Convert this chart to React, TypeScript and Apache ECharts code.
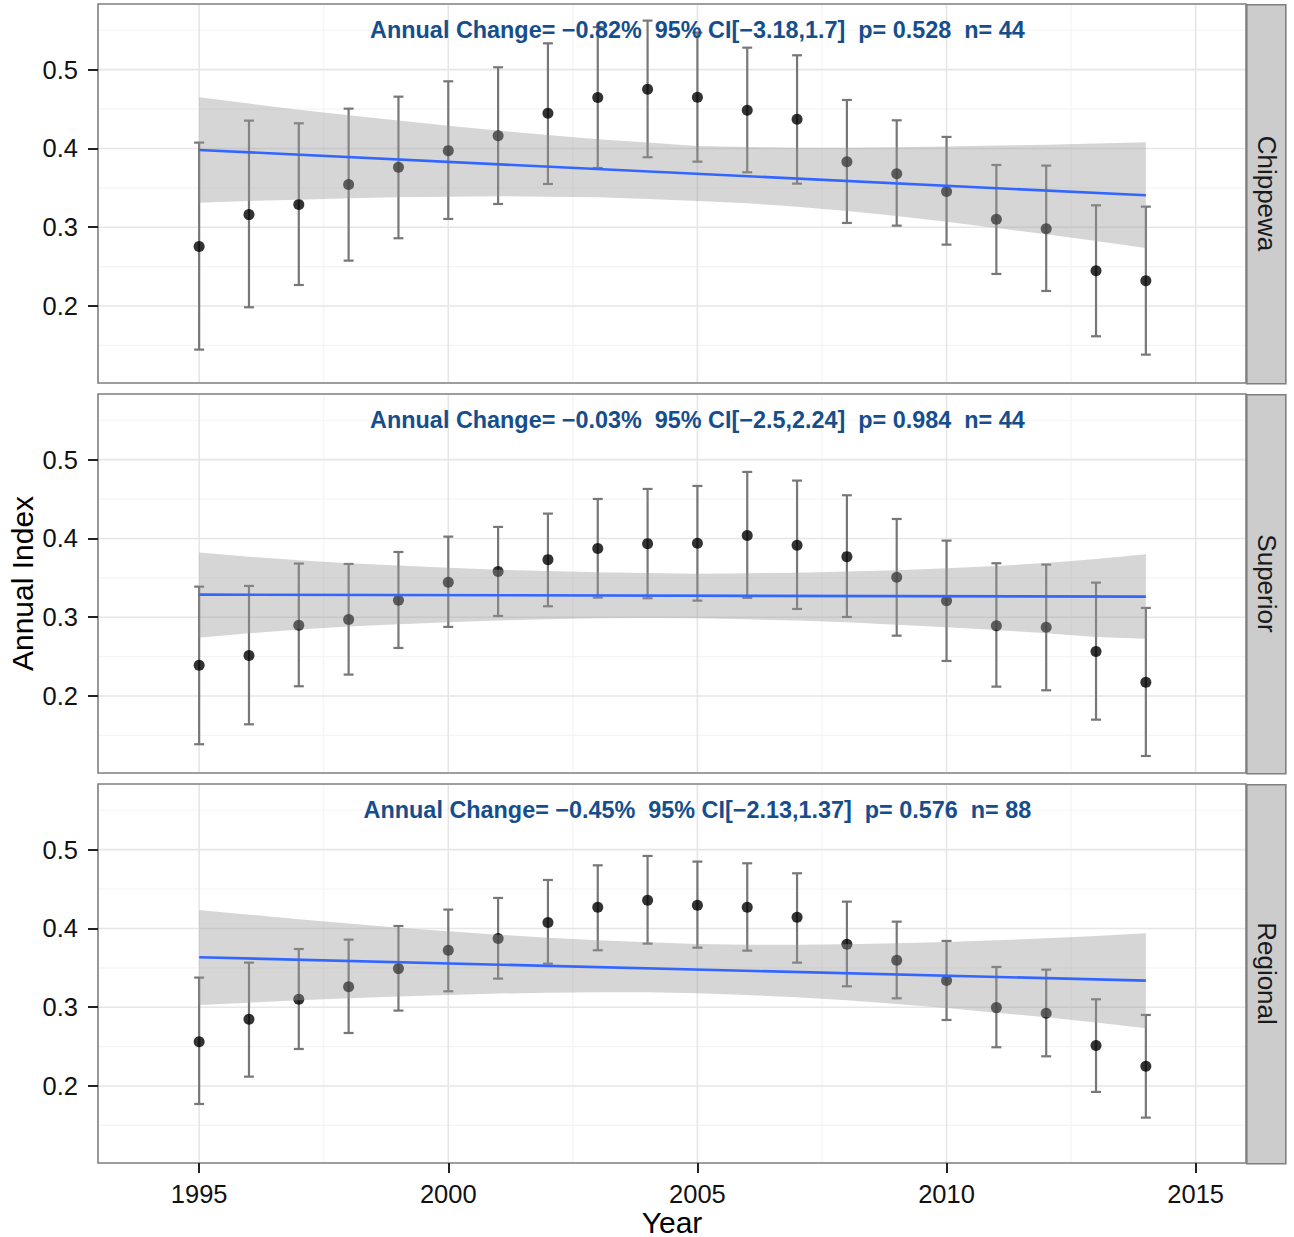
import React, { useEffect, useRef } from "react";
import * as echarts from "echarts";

// ---------- data ----------
const years = [1995, 1996, 1997, 1998, 1999, 2000, 2001, 2002, 2003, 2004, 2005, 2006, 2007, 2008, 2009, 2010, 2011, 2012, 2013, 2014];
const facets = ["Chippewa", "Superior", "Regional"];

const chippewaMean = [0.2754, 0.3160, 0.3287, 0.3541, 0.3761, 0.3972, 0.4162, 0.4446, 0.4645, 0.4750, 0.4649, 0.4484, 0.4370, 0.3832, 0.3680, 0.3452, 0.3101, 0.2982, 0.2449, 0.2322];
const chippewaLow = [0.1447, 0.1984, 0.2267, 0.2576, 0.2860, 0.3105, 0.3295, 0.3549, 0.3752, 0.3888, 0.3832, 0.3697, 0.3553, 0.3054, 0.3020, 0.2779, 0.2407, 0.2191, 0.1616, 0.1383];
const chippewaHigh = [0.4074, 0.4353, 0.4319, 0.4505, 0.4657, 0.4852, 0.5030, 0.5334, 0.5540, 0.5622, 0.5470, 0.5279, 0.5182, 0.4615, 0.4357, 0.4146, 0.3790, 0.3782, 0.3278, 0.3261];
const chippewaFit = [0.3981, 0.3405];
const chippewaBandUpper = [0.4649, 0.4569, 0.4492, 0.4420, 0.4353, 0.4289, 0.4226, 0.4171, 0.4116, 0.4074, 0.4031, 0.4019, 0.4010, 0.4010, 0.4014, 0.4023, 0.4036, 0.4048, 0.4061, 0.4078];
const chippewaBandLower = [0.3312, 0.3333, 0.3350, 0.3367, 0.3380, 0.3388, 0.3393, 0.3388, 0.3380, 0.3358, 0.3333, 0.3304, 0.3261, 0.3206, 0.3143, 0.3071, 0.2991, 0.2910, 0.2826, 0.2737];

const superiorMean = [0.2390, 0.2513, 0.2898, 0.2970, 0.3215, 0.3443, 0.3579, 0.3731, 0.3871, 0.3934, 0.3938, 0.4036, 0.3913, 0.3769, 0.3507, 0.3210, 0.2893, 0.2872, 0.2564, 0.2175];
const superiorLow = [0.1388, 0.1641, 0.2124, 0.2272, 0.2610, 0.2877, 0.3016, 0.3139, 0.3249, 0.3241, 0.3211, 0.3245, 0.3105, 0.3003, 0.2766, 0.2445, 0.2119, 0.2073, 0.1700, 0.1239];
const superiorHigh = [0.3388, 0.3397, 0.3681, 0.3676, 0.3828, 0.4023, 0.4146, 0.4315, 0.4501, 0.4628, 0.4666, 0.4844, 0.4734, 0.4548, 0.4247, 0.3972, 0.3685, 0.3668, 0.3439, 0.3118];
const superiorFit = [0.3287, 0.3261];
const superiorBandUpper = [0.3820, 0.3769, 0.3723, 0.3685, 0.3655, 0.3629, 0.3604, 0.3587, 0.3570, 0.3562, 0.3553, 0.3558, 0.3566, 0.3579, 0.3596, 0.3621, 0.3651, 0.3689, 0.3740, 0.3799];
const superiorBandLower = [0.2741, 0.2796, 0.2843, 0.2881, 0.2910, 0.2936, 0.2957, 0.2974, 0.2987, 0.2991, 0.2987, 0.2974, 0.2957, 0.2936, 0.2906, 0.2872, 0.2838, 0.2796, 0.2750, 0.2728];

const regionalMean = [0.2563, 0.2847, 0.3101, 0.3261, 0.3490, 0.3723, 0.3871, 0.4074, 0.4268, 0.4357, 0.4294, 0.4268, 0.4141, 0.3799, 0.3596, 0.3338, 0.2995, 0.2923, 0.2513, 0.2250];
const regionalLow = [0.1772, 0.2119, 0.2470, 0.2673, 0.2957, 0.3202, 0.3363, 0.3553, 0.3723, 0.3807, 0.3756, 0.3718, 0.3566, 0.3266, 0.3113, 0.2838, 0.2492, 0.2377, 0.1925, 0.1599];
const regionalHigh = [0.3376, 0.3566, 0.3739, 0.3858, 0.4031, 0.4239, 0.4387, 0.4615, 0.4801, 0.4920, 0.4848, 0.4827, 0.4700, 0.4340, 0.4086, 0.3841, 0.3511, 0.3477, 0.3101, 0.2902];
const regionalFit = [0.3634, 0.3338];
const regionalBandUpper = [0.4234, 0.4175, 0.4116, 0.4061, 0.4010, 0.3964, 0.3921, 0.3883, 0.3849, 0.3824, 0.3803, 0.3794, 0.3794, 0.3799, 0.3811, 0.3828, 0.3849, 0.3875, 0.3904, 0.3938];
const regionalBandLower = [0.3029, 0.3058, 0.3088, 0.3113, 0.3135, 0.3156, 0.3173, 0.3185, 0.3190, 0.3190, 0.3177, 0.3156, 0.3126, 0.3088, 0.3042, 0.2991, 0.2931, 0.2872, 0.2805, 0.2733];

const annotations = [
  "Annual Change= \u22120.82%  95% CI[\u22123.18,1.7]  p= 0.528  n= 44",
  "Annual Change= \u22120.03%  95% CI[\u22122.5,2.24]  p= 0.984  n= 44",
  "Annual Change= \u22120.45%  95% CI[\u22122.13,1.37]  p= 0.576  n= 88",
];
const fitYears = [1995, 2014];
const annotationAt = [2005, 0.55];

const xTicks = [1995, 2000, 2005, 2010, 2015];
const xMinor = [1997.5, 2002.5, 2007.5, 2012.5];
const yTicks = [0.2, 0.3, 0.4, 0.5];
const yMinor = [0.15, 0.25, 0.35, 0.45, 0.55];

// ---------- layout ----------
const W = 1294;
const H = 1237;
const GRID_LEFT = 98;
const GRID_W = 1148;
const PANEL_TOPS = [4, 394, 784];
const PANEL_H = 379;
const STRIP_W = 39;
const X_MIN = 1992.97;
const X_MAX = 2016.01;
const Y_MIN = 0.1023;
const Y_MAX = 0.5833;
const FONT = "'Liberation Sans', Arial, Helvetica, sans-serif";

const panels = [
  { mean: chippewaMean, low: chippewaLow, high: chippewaHigh, fit: chippewaFit, up: chippewaBandUpper, lo: chippewaBandLower },
  { mean: superiorMean, low: superiorLow, high: superiorHigh, fit: superiorFit, up: superiorBandUpper, lo: superiorBandLower },
  { mean: regionalMean, low: regionalLow, high: regionalHigh, fit: regionalFit, up: regionalBandUpper, lo: regionalBandLower },
];

function buildOption() {
  const grid: any[] = [];
  const xAxis: any[] = [];
  const yAxis: any[] = [];
  const series: any[] = [];
  const graphic: any[] = [];

  panels.forEach((p, i) => {
    const top = PANEL_TOPS[i];
    grid.push({
      left: GRID_LEFT,
      top,
      width: GRID_W,
      height: PANEL_H,
      show: true,
      backgroundColor: "#ffffff",
      borderColor: "#7f7f7f",
      borderWidth: 1.6,
    });
    const isBottom = i === panels.length - 1;
    xAxis.push({
      type: "value",
      gridIndex: i,
      min: X_MIN,
      max: X_MAX,
      axisLine: { show: false },
      splitLine: { show: false },
      axisTick: { show: isBottom, customValues: xTicks, length: 10, lineStyle: { color: "#222", width: 2 } },
      axisLabel: {
        show: isBottom,
        customValues: xTicks,
        fontSize: 25.5,
        color: "#111",
        margin: 18,
        fontFamily: FONT,
        formatter: (v: number) => String(Math.round(v)),
      },
    });
    yAxis.push({
      type: "value",
      gridIndex: i,
      min: Y_MIN,
      max: Y_MAX,
      axisLine: { show: false },
      splitLine: { show: false },
      axisTick: { show: true, customValues: yTicks, length: 10, lineStyle: { color: "#222", width: 2 } },
      axisLabel: {
        show: true,
        customValues: yTicks,
        fontSize: 25.5,
        color: "#111",
        margin: 20,
        fontFamily: FONT,
        formatter: (v: number) => v.toFixed(1),
      },
    });

    // grid lines
    series.push({
      type: "custom",
      xAxisIndex: i,
      yAxisIndex: i,
      z: 1,
      silent: true,
      data: [[2005, 0.3]],
      renderItem: (params: any, api: any) => {
        const cs = params.coordSys;
        const x0 = cs.x + 1;
        const x1 = cs.x + cs.width - 1;
        const y0 = cs.y + 1;
        const y1 = cs.y + cs.height - 1;
        const children: any[] = [];
        xMinor.forEach((v) => {
          const x = api.coord([v, Y_MIN])[0];
          children.push({ type: "line", shape: { x1: x, y1: y0, x2: x, y2: y1 }, style: { stroke: "#f4f4f4", lineWidth: 1.2 } });
        });
        yMinor.forEach((v) => {
          const y = api.coord([X_MIN, v])[1];
          children.push({ type: "line", shape: { x1: x0, y1: y, x2: x1, y2: y }, style: { stroke: "#f4f4f4", lineWidth: 1.2 } });
        });
        xTicks.forEach((v) => {
          const x = api.coord([v, Y_MIN])[0];
          children.push({ type: "line", shape: { x1: x, y1: y0, x2: x, y2: y1 }, style: { stroke: "#e6e6e6", lineWidth: 1.6 } });
        });
        yTicks.forEach((v) => {
          const y = api.coord([X_MIN, v])[1];
          children.push({ type: "line", shape: { x1: x0, y1: y, x2: x1, y2: y }, style: { stroke: "#e6e6e6", lineWidth: 1.6 } });
        });
        return { type: "group", children };
      },
    });

    // error bars
    series.push({
      type: "custom",
      xAxisIndex: i,
      yAxisIndex: i,
      z: 2,
      silent: true,
      data: years.map((yr, k) => [yr, p.low[k], p.high[k]]),
      encode: { x: 0, y: [1, 2] },
      renderItem: (params: any, api: any) => {
        const x = api.value(0);
        const lo = api.coord([x, api.value(1)]);
        const hi = api.coord([x, api.value(2)]);
        const capL = api.coord([x - 0.1, api.value(2)])[0];
        const capR = api.coord([x + 0.1, api.value(2)])[0];
        const style = { stroke: "#777777", lineWidth: 2.2 };
        return {
          type: "group",
          children: [
            { type: "line", shape: { x1: lo[0], y1: lo[1], x2: hi[0], y2: hi[1] }, style },
            { type: "line", shape: { x1: capL, y1: hi[1], x2: capR, y2: hi[1] }, style },
            { type: "line", shape: { x1: capL, y1: lo[1], x2: capR, y2: lo[1] }, style },
          ],
        };
      },
    });

    // points
    series.push({
      type: "scatter",
      xAxisIndex: i,
      yAxisIndex: i,
      z: 3,
      silent: true,
      symbol: "circle",
      symbolSize: 11,
      itemStyle: { color: "#000000" },
      data: years.map((yr, k) => [yr, p.mean[k]]),
    });

    // confidence band
    series.push({
      type: "custom",
      xAxisIndex: i,
      yAxisIndex: i,
      z: 4,
      silent: true,
      data: [[2005, 0.3]],
      renderItem: (params: any, api: any) => {
        const pts: number[][] = [];
        years.forEach((yr, k) => pts.push(api.coord([yr, p.up[k]])));
        for (let k = years.length - 1; k >= 0; k--) pts.push(api.coord([years[k], p.lo[k]]));
        return { type: "polygon", shape: { points: pts }, style: { fill: "rgba(153,153,153,0.4)" } };
      },
    });

    // fitted line
    series.push({
      type: "line",
      xAxisIndex: i,
      yAxisIndex: i,
      z: 5,
      silent: true,
      symbol: "none",
      lineStyle: { color: "#3366FF", width: 2.6 },
      data: fitYears.map((yr, k) => [yr, p.fit[k]]),
    });

    // annotation text
    series.push({
      type: "custom",
      xAxisIndex: i,
      yAxisIndex: i,
      z: 6,
      silent: true,
      data: [annotationAt],
      renderItem: (params: any, api: any) => {
        const pt = api.coord([api.value(0), api.value(1)]);
        return {
          type: "text",
          x: pt[0],
          y: pt[1],
          style: {
            text: annotations[i],
            fontSize: 23.4,
            fontWeight: "bold",
            fontFamily: FONT,
            fill: "#164e8c",
            align: "center",
            verticalAlign: "middle",
          },
        };
      },
    });

    // strip
    graphic.push({
      type: "rect",
      left: GRID_LEFT + GRID_W,
      top,
      shape: { x: 0, y: 0, width: STRIP_W, height: PANEL_H },
      style: { fill: "#cccccc", stroke: "#7f7f7f", lineWidth: 1.6 },
      z: 10,
    });
    graphic.push({
      type: "text",
      x: GRID_LEFT + GRID_W + STRIP_W / 2 + 1,
      y: top + PANEL_H / 2,
      rotation: -Math.PI / 2,
      style: {
        text: facets[i],
        fontSize: 26,
        fontFamily: FONT,
        fill: "#1a1a1a",
        align: "center",
        verticalAlign: "middle",
      },
      z: 11,
    });
  });

  graphic.push({
    type: "text",
    x: 22,
    y: (PANEL_TOPS[0] + PANEL_TOPS[2] + PANEL_H) / 2,
    rotation: Math.PI / 2,
    style: { text: "Annual Index", fontSize: 30, fontFamily: FONT, fill: "#000", align: "center", verticalAlign: "middle" },
    z: 11,
  });
  graphic.push({
    type: "text",
    x: GRID_LEFT + GRID_W / 2,
    y: 1222,
    style: { text: "Year", fontSize: 30, fontFamily: FONT, fill: "#000", align: "center", verticalAlign: "middle" },
    z: 11,
  });

  return {
    animation: false,
    backgroundColor: "#ffffff",
    textStyle: { fontFamily: FONT },
    grid,
    xAxis,
    yAxis,
    series,
    graphic,
  };
}

export default function App() {
  const ref = useRef<HTMLDivElement>(null);
  useEffect(() => {
    if (!ref.current) return;
    const chart = echarts.init(ref.current, undefined, { renderer: "svg" });
    chart.setOption(buildOption() as any);
    return () => chart.dispose();
  }, []);
  return <div ref={ref} style={{ position: "absolute", left: 0, top: 0, width: W, height: H }} />;
}
